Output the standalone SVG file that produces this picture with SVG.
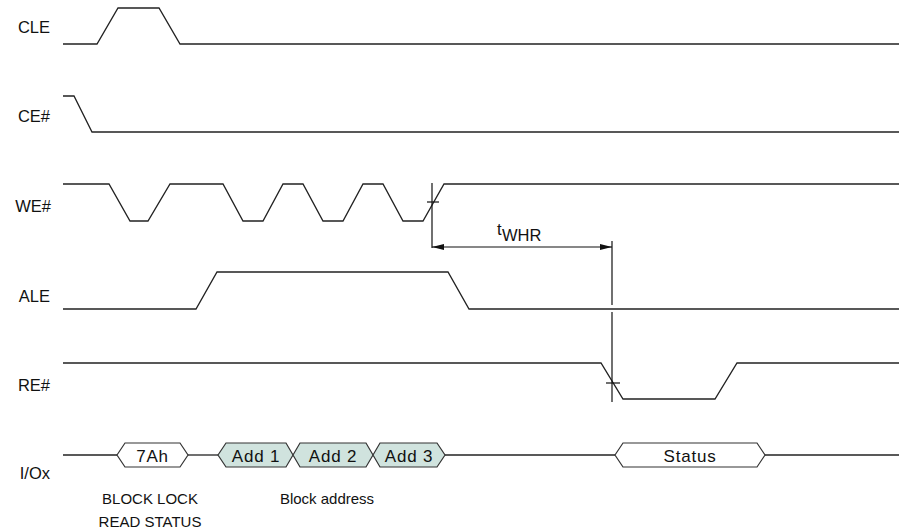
<svg xmlns="http://www.w3.org/2000/svg" width="899" height="529" viewBox="0 0 899 529">
  <defs>
    <style>
      .wave { fill: none; stroke: #222; stroke-width: 1.3; stroke-linejoin: miter; }
      .dim { fill: none; stroke: #111; stroke-width: 1.2; }
      .hex { stroke: #333; stroke-width: 1.2; }
      .hexw { fill: #ffffff; }
      .hexg { fill: #d0e3de; }
      .lbl { font-family: "Liberation Sans", Arial, sans-serif; font-size: 16.5px; fill: #111; }
      .box { font-family: "Liberation Sans", Arial, sans-serif; font-size: 17px; fill: #111; text-anchor: middle; letter-spacing: 0.8px; }
      .note { font-family: "Liberation Sans", Arial, sans-serif; font-size: 15px; fill: #111; text-anchor: middle; }
    </style>
    <marker id="arr" viewBox="0 0 12 6" refX="12" refY="3" markerWidth="12" markerHeight="6" markerUnits="userSpaceOnUse" orient="auto-start-reverse">
      <path d="M0,0 L12,3 L0,6 Z" fill="#111"/>
    </marker>
  </defs>
  <rect width="899" height="529" fill="#ffffff"/>

  <g id="labels">
    <text class="lbl" x="50" y="33" text-anchor="end">CLE</text>
    <text class="lbl" x="50" y="122" text-anchor="end">CE#</text>
    <text class="lbl" x="51" y="212" text-anchor="end">WE#</text>
    <text class="lbl" x="50" y="302" text-anchor="end">ALE</text>
    <text class="lbl" x="50" y="391" text-anchor="end">RE#</text>
    <text class="lbl" x="50" y="479" text-anchor="end">I/Ox</text>
  </g>

  <g id="CLE">
    <polyline class="wave" points="63,44 97,44 118,8 159,8 180,44 899,44"/>
  </g>
  <g id="CE">
    <polyline class="wave" points="63,96 74,96 92,132 899,132"/>
  </g>
  <g id="WE">
    <polyline class="wave" points="63,184 109,184 130,221 148,221 170,184 223,184 243,221 263,221 283,184 303,184 323,221 343,221 363,184 383,184 403,221 423,221 444,184 899,184"/>
  </g>
  <g id="ALE">
    <polyline class="wave" points="63,309 196,309 217,272 448,272 469,309 899,309"/>
  </g>
  <g id="RE">
    <polyline class="wave" points="63,363 601,363 623,399 715,399 737,363 899,363"/>
  </g>

  <g id="IOx">
    <polyline class="wave" points="63,455 117,455"/>
    <polyline class="wave" points="188,455 218,455"/>
    <polyline class="wave" points="445,455 615,455"/>
    <polyline class="wave" points="765,455 899,455"/>
    <g id="box-7Ah">
      <polygon class="hex hexw" points="117,455 125,443 180,443 188,455 180,467 125,467"/>
      <text class="box" x="152.5" y="462">7Ah</text>
    </g>
    <g id="box-add1">
      <polygon class="hex hexg" points="218,455 226,443 286,443 293,455 286,467 226,467"/>
      <text class="box" x="256" y="462">Add 1</text>
    </g>
    <g id="box-add2">
      <polygon class="hex hexg" points="293,455 300,443 366,443 373,455 366,467 300,467"/>
      <text class="box" x="333" y="462">Add 2</text>
    </g>
    <g id="box-add3">
      <polygon class="hex hexg" points="373,455 380,443 437,443 445,455 437,467 380,467"/>
      <text class="box" x="409" y="462">Add 3</text>
    </g>
    <g id="box-status">
      <polygon class="hex hexw" points="615,455 623,443 757,443 765,455 757,467 623,467"/>
      <text class="box" x="690" y="462">Status</text>
    </g>
  </g>

  <g id="connectors">
    <line class="dim" x1="432" y1="183" x2="432" y2="248"/>
    <line class="dim" x1="427" y1="202" x2="439" y2="202"/>
    <line class="dim" x1="612" y1="241" x2="612" y2="305"/>
    <line class="dim" x1="612" y1="312" x2="612" y2="402"/>
    <line class="dim" x1="606" y1="383" x2="620" y2="383"/>
    <line class="dim" x1="432" y1="247" x2="612" y2="247" marker-start="url(#arr)" marker-end="url(#arr)"/>
    <text class="lbl" x="497" y="235" font-size="15">t</text>
    <text class="lbl" x="502" y="241" font-size="15">WHR</text>
  </g>

  <g id="notes">
    <text class="note" x="150" y="504">BLOCK LOCK</text>
    <text class="note" x="150" y="527">READ STATUS</text>
    <text class="note" x="327" y="504">Block address</text>
  </g>
</svg>
